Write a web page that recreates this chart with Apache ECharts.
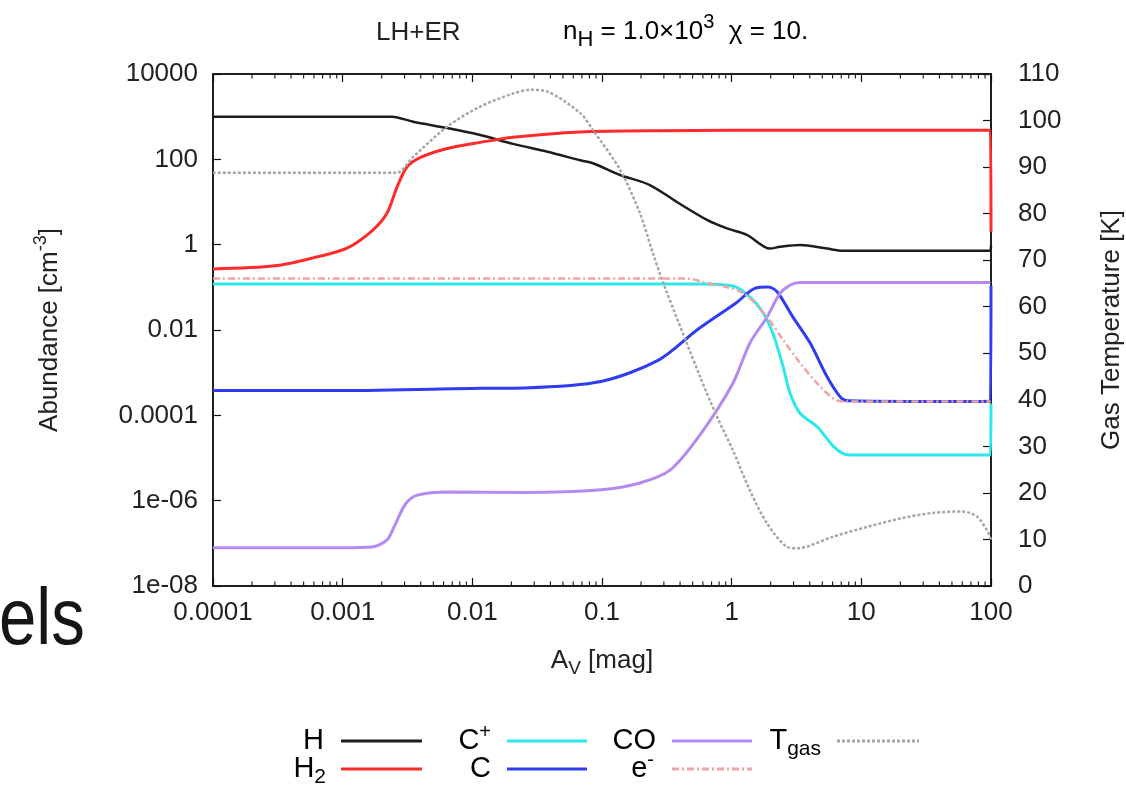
<!DOCTYPE html>
<html>
<head>
<meta charset="utf-8">
<script src="https://cdn.jsdelivr.net/npm/echarts@6/dist/echarts.min.js"></script>
<style>
  html, body { margin: 0; padding: 0; background: #ffffff; }
  #chart { width: 1126px; height: 785px; }
</style>
</head>
<body>
<div id="chart"></div>
<script>
// Tick labels
const avTickLabels = ['0.0001', '0.001', '0.01', '0.1', '1', '10', '100'];
const abundanceTickLabels = ['1e-08', '1e-06', '0.0001', '0.01', '1', '100', '10000'];
// Minor ticks of the A_V axis (2..9 in every decade)
const avMinorTicks = [
  2e-4, 3e-4, 4e-4, 5e-4, 6e-4, 7e-4, 8e-4, 9e-4,
  2e-3, 3e-3, 4e-3, 5e-3, 6e-3, 7e-3, 8e-3, 9e-3,
  2e-2, 3e-2, 4e-2, 5e-2, 6e-2, 7e-2, 8e-2, 9e-2,
  0.2, 0.3, 0.4, 0.5, 0.6, 0.7, 0.8, 0.9,
  2, 3, 4, 5, 6, 7, 8, 9,
  20, 30, 40, 50, 60, 70, 80, 90
];

// Abundances [cm^-3] versus A_V [mag]
const hAbund = [
  [1e-4, 1.0e3], [1e-3, 1.0e3], [2.4e-3, 1.0e3], [3.5e-3, 7.6e2], [6.4e-3, 5.4e2],
  [1.15e-2, 3.7e2], [2.06e-2, 2.3e2], [3.8e-2, 1.5e2], [6.8e-2, 9.5e1], [8.5e-2, 8.1e1],
  [0.138, 4.3e1], [0.234, 2.5e1], [0.378, 1.0e1], [0.645, 3.8], [0.92, 2.4],
  [1.31, 1.7], [1.98, 0.81], [2.36, 0.89], [3.38, 0.98], [5.43, 0.81],
  [7.2, 0.72], [30, 0.72], [99, 0.72], [100, 0.95]
];
const h2Abund = [
  [1e-4, 0.27], [3e-4, 0.32], [5.9e-4, 0.49], [1.08e-3, 0.83], [1.71e-3, 2.2],
  [2.2e-3, 5.5], [2.62e-3, 22], [3.13e-3, 66], [3.95e-3, 1.1e2], [6.4e-3, 1.8e2],
  [1.15e-2, 2.5e2], [2.06e-2, 3.3e2], [6.8e-2, 4.4e2], [0.3, 4.7e2], [3, 4.8e2],
  [99, 4.8e2], [100, 2.0]
];
const cPlusAbund = [
  [1e-4, 0.12], [0.1, 0.12], [0.57, 0.12], [1.02, 0.107], [1.38, 0.060],
  [1.75, 0.025], [2.08, 8.3e-3], [2.49, 1.4e-3], [2.82, 3.3e-4], [3.38, 1.1e-4],
  [4.57, 5.4e-5], [6.06, 1.9e-5], [7.25, 1.26e-5], [8.63, 1.17e-5], [99, 1.17e-5],
  [100, 1.9e-4]
];
const cAbund = [
  [1e-4, 3.8e-4], [1e-3, 3.8e-4], [1.15e-2, 4.3e-4], [2.55e-2, 4.4e-4], [9.8e-2, 6.2e-4],
  [0.275, 2.0e-3], [0.54, 1.0e-2], [1.08, 4.3e-2], [1.51, 9.5e-2], [1.91, 0.102],
  [2.24, 0.079], [2.97, 0.020], [4.02, 5.0e-3], [5.43, 8.1e-4], [6.84, 2.75e-4],
  [7.75, 2.2e-4], [99, 2.1e-4], [100, 0.11]
];
const coAbund = [
  [1e-4, 7.9e-8], [1e-3, 7.9e-8], [1.67e-3, 8.2e-8], [2.2e-3, 1.2e-7], [2.5e-3, 2.5e-7],
  [3.08e-3, 8.7e-7], [3.78e-3, 1.35e-6], [6.5e-3, 1.6e-6], [2.55e-2, 1.55e-6], [9.8e-2, 1.8e-6],
  [0.196, 2.6e-6], [0.334, 5.2e-6], [0.57, 3.5e-5], [1.02, 5.6e-4], [1.38, 4.9e-3],
  [1.87, 0.020], [2.36, 0.072], [2.82, 0.112], [3.38, 0.129], [99, 0.129]
];
const eAbund = [
  [1e-4, 0.16], [0.45, 0.16], [0.57, 0.14], [1.22, 0.074], [1.87, 0.020],
  [2.49, 5.9e-3], [3.38, 1.66e-3], [4.57, 5.6e-4], [6.06, 2.5e-4], [7.25, 2.1e-4],
  [99, 2.1e-4]
];
// Gas temperature [K] versus A_V [mag]
const tGas = [
  [1e-4, 88.8], [2.6e-3, 88.8], [3.5e-3, 92.2], [6.4e-3, 98.7], [1.15e-2, 103.0],
  [2.06e-2, 105.8], [2.8e-2, 106.6], [3.8e-2, 106.2], [6.8e-2, 101.6], [8.5e-2, 98.0],
  [0.138, 89.4], [0.196, 80.1], [0.247, 71.5], [0.295, 65.3], [0.57, 45.0],
  [0.77, 36.4], [1.02, 29.2], [1.38, 20.6], [1.87, 13.5], [2.67, 8.4],
  [3.19, 8.1], [6.06, 10.6], [11.1, 12.7], [19.9, 14.5], [35.7, 15.7],
  [60.8, 16.0], [78, 14.9], [93, 12.0], [100, 10.0]
];

const FONT = "'Liberation Sans', Arial, sans-serif";
const INK = '#222';
const COLORS = {
  h: '#1c1c1c', h2: '#ff2a2a', cPlus: '#2ce8e8', c: '#2f3cf2',
  co: '#b48af2', e: '#f0a4a4', t: '#a6a6a6'
};

const chart = echarts.init(document.getElementById('chart'), null, { renderer: 'canvas' });

function lineSeries(name, data, color, width, dash, yAxisIndex) {
  return {
    name: name,
    type: 'line',
    data: data,
    xAxisIndex: 0,
    yAxisIndex: yAxisIndex,
    showSymbol: false,
    symbol: 'none',
    smooth: 0.3,
    lineStyle: { color: color, width: width, type: dash || 'solid' },
    emphasis: { disabled: true },
    animation: false
  };
}

const sub = (size, drop) => ({ fontSize: size, fontFamily: FONT, color: INK, padding: [drop * 2, 0, 0, 0] });
const sup = (size, rise) => ({ fontSize: size, fontFamily: FONT, color: INK, padding: [0, 0, rise * 2, 0] });
const base = (size) => ({ fontSize: size, fontFamily: FONT, color: INK });

// Legend (gnuplot style: label, then line sample)
const LEG = 29;
const legendRich = { m: base(LEG), sb: sub(21, 8), sp: sup(20, 9) };
const legendItems = [
  { text: '{m|H}', tx: 324, x1: 341, x2: 422, y: 741, color: COLORS.h, dash: null },
  { text: '{m|H}{sb|2}', tx: 326, x1: 341, x2: 422, y: 769, color: COLORS.h2, dash: null },
  { text: '{m|C}{sp|+}', tx: 491, x1: 507, x2: 587, y: 741, color: COLORS.cPlus, dash: null },
  { text: '{m|C}', tx: 491, x1: 507, x2: 587, y: 769, color: COLORS.c, dash: null },
  { text: '{m|CO}', tx: 656, x1: 672, x2: 752, y: 741, color: COLORS.co, dash: null },
  { text: '{m|e}{sp|-}', tx: 654, x1: 672, x2: 752, y: 769, color: COLORS.e, dash: [7, 3, 2, 3] },
  { text: '{m|T}{sb|gas}', tx: 821, x1: 837, x2: 919, y: 741, color: COLORS.t, dash: [3, 2] }
];
const legendGraphics = [];
legendItems.forEach(it => {
  legendGraphics.push({
    type: 'text', x: it.tx, y: it.y,
    style: { text: it.text, rich: legendRich, align: 'right', verticalAlign: 'middle' }
  });
  legendGraphics.push({
    type: 'line',
    shape: { x1: it.x1, y1: it.y, x2: it.x2, y2: it.y },
    style: { stroke: it.color, lineWidth: 3, lineDash: it.dash }
  });
});

const option = {
  backgroundColor: '#ffffff',
  animation: false,
  grid: {
    left: 213, right: 135, top: 74, bottom: 199,
    containLabel: false, outerBoundsMode: 'none',
    show: true, borderColor: '#111', borderWidth: 1.5, backgroundColor: 'transparent'
  },
  xAxis: [
    {
      type: 'log', logBase: 10, min: 1e-4, max: 100, interval: 1,
      position: 'bottom',
      name: '{a|A}{s|V}{a| [mag]}',
      nameLocation: 'middle', nameGap: 57,
      nameTextStyle: { rich: { a: base(26), s: sub(19, 8) } },
      axisLine: { show: true, lineStyle: { color: '#111', width: 1.5 } },
      axisTick: { show: true, inside: true, length: 8, lineStyle: { color: '#111', width: 1.2 } },
      axisLabel: {
        fontSize: 26, fontFamily: FONT, color: INK, margin: 14,
        formatter: v => avTickLabels[Math.round(Math.log10(v)) + 4]
      },
      splitLine: { show: false }
    },
    {
      type: 'log', logBase: 10, min: 1e-4, max: 100, interval: 1,
      position: 'top',
      axisLine: { show: true, lineStyle: { color: '#111', width: 1.5 } },
      axisTick: { show: true, inside: true, length: 8, lineStyle: { color: '#111', width: 1.2 } },
      axisLabel: { show: false },
      splitLine: { show: false }
    }
  ],
  yAxis: [
    {
      type: 'log', logBase: 10, min: 1e-8, max: 1e4, interval: 2,
      position: 'left',
      name: '{a|Abundance [cm}{s|-3}{a|]}',
      nameLocation: 'middle', nameGap: 145, nameRotate: 90,
      nameTextStyle: { rich: { a: base(26), s: sup(18, 9) } },
      axisLine: { show: true, lineStyle: { color: '#111', width: 1.5 } },
      axisTick: { show: true, inside: true, length: 8, lineStyle: { color: '#111', width: 1.2 } },
      axisLabel: {
        fontSize: 26, fontFamily: FONT, color: INK, margin: 15,
        formatter: v => {
          const k = (Math.round(Math.log10(v)) + 8) / 2;
          return abundanceTickLabels[k] !== undefined ? abundanceTickLabels[k] : '';
        }
      },
      splitLine: { show: false }
    },
    {
      type: 'value', min: 0, max: 110, interval: 10,
      position: 'right',
      name: 'Gas Temperature [K]',
      nameLocation: 'middle', nameGap: 108, nameRotate: 90,
      nameTextStyle: { fontSize: 26, fontFamily: FONT, color: INK },
      axisLine: { show: true, lineStyle: { color: '#111', width: 1.5 } },
      axisTick: { show: true, inside: true, length: 8, lineStyle: { color: '#111', width: 1.2 } },
      axisLabel: { fontSize: 26, fontFamily: FONT, color: INK, margin: 27 },
      splitLine: { show: false }
    }
  ],
  graphic: [
    {
      type: 'text', left: 376, top: 20,
      style: { text: 'LH+ER', fontSize: 26, fontFamily: FONT, fill: INK }
    },
    {
      type: 'text', left: 563, top: 12,
      style: {
        text: '{a|n}{s|H}{a| = 1.0×10}{p|3}{a|  χ = 10.}',
        rich: { a: base(26), s: sub(22, 8), p: sup(20, 10) }
      }
    },
    {
      type: 'text', x: -1, y: 622, scaleX: 0.84,
      style: {
        text: 'els', fontSize: 80, fontFamily: FONT,
        fill: '#161616', verticalAlign: 'middle'
      }
    }
  ].concat(legendGraphics),
  series: [
    lineSeries('H', hAbund, COLORS.h, 2.5, null, 0),
    lineSeries('H2', h2Abund, COLORS.h2, 3, null, 0),
    lineSeries('C+', cPlusAbund, COLORS.cPlus, 3, null, 0),
    lineSeries('C', cAbund, COLORS.c, 3, null, 0),
    lineSeries('CO', coAbund, COLORS.co, 3, null, 0),
    lineSeries('e-', eAbund, COLORS.e, 2.5, [7, 3, 2, 3], 0),
    lineSeries('Tgas', tGas, COLORS.t, 2.5, [3, 2], 1),
    {
      // minor ticks on bottom and top of the frame
      type: 'custom',
      xAxisIndex: 0, yAxisIndex: 0,
      silent: true, clip: false, z: 5,
      data: avMinorTicks.map(v => [v, 1]),
      renderItem: (params, api) => {
        const x = api.coord([api.value(0), 1])[0];
        const cs = params.coordSys;
        const yb = cs.y + cs.height, yt = cs.y;
        return {
          type: 'group',
          children: [
            { type: 'line', shape: { x1: x, y1: yb, x2: x, y2: yb - 4.5 }, style: { stroke: '#111', lineWidth: 1.1 } },
            { type: 'line', shape: { x1: x, y1: yt, x2: x, y2: yt + 4.5 }, style: { stroke: '#111', lineWidth: 1.1 } }
          ]
        };
      }
    }
  ]
};

chart.setOption(option);
</script>
</body>
</html>
